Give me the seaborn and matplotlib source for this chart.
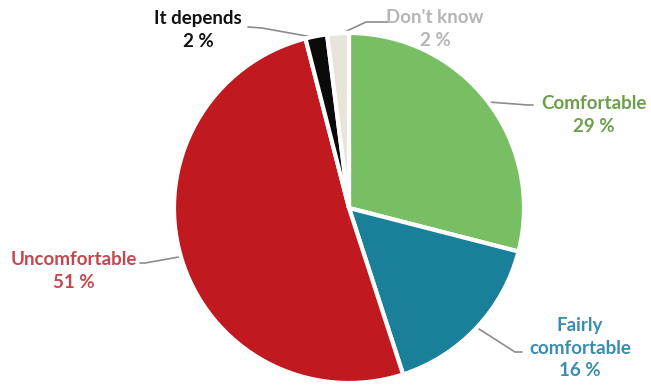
import seaborn as sns
import matplotlib.pyplot as plt
import numpy as np

sns.set_theme(style="white")
plt.rcParams['font.family'] = ['Lato', 'DejaVu Sans']

labels = ['Comfortable', 'Fairly\ncomfortable', 'Uncomfortable', 'It depends', "Don't know"]
shares = [29, 16, 51, 2, 2]
colors = ['#78BF64', '#1A7F99', '#C0191F', '#0A0A0A', '#E7E4D8']
text_colors = ['#6C9E4C', '#3A8DAE', '#C4474D', '#111111', '#B5B5B5']

# label positions in pixel space (x, y from top)
text_pos = [(594, 115), (580, 348), (74, 271), (198, 30), (435, 29)]
# leader line: elbow point and end point near the label
elbows = [(528, 105), (515, 352), (145, 263), (262, 28), (366, 22)]
ends = [(533, 105), (522, 352), (140, 263), (248, 27), (390, 22)]

W, H = 651, 386
cx, cy, r = 349, 208, 175

fig = plt.figure(figsize=(6.51, 3.86), dpi=100)
ax = fig.add_axes([0, 0, 1, 1])

wedges, _ = ax.pie(shares, colors=colors, startangle=90, counterclock=False,
                   center=(cx, H - cy), radius=r,
                   wedgeprops=dict(edgecolor='white', linewidth=3))
ax.set_xlim(0, W)
ax.set_ylim(0, H)
ax.set_aspect('equal')
ax.axis('off')

cum = np.cumsum([0] + shares)
for i, lab in enumerate(labels):
    mid = (cum[i] + cum[i + 1]) / 2 / 100 * 360
    ang = np.deg2rad(90 - mid)
    px = cx + r * 0.99 * np.cos(ang)
    py = (H - cy) + r * 0.99 * np.sin(ang)
    ex, ey = elbows[i]
    fx, fy = ends[i]
    ax.plot([px, ex, fx], [py, H - ey, H - fy], color='#8C8C8C', lw=1.2,
            solid_capstyle='round', zorder=0)
    tx, ty = text_pos[i]
    ax.text(tx, H - ty, f'{lab}\n{shares[i]} %', ha='center', va='center',
            color=text_colors[i], fontsize=13.5, fontweight='bold', linespacing=1.4)

fig.savefig('out.png', dpi=100)
